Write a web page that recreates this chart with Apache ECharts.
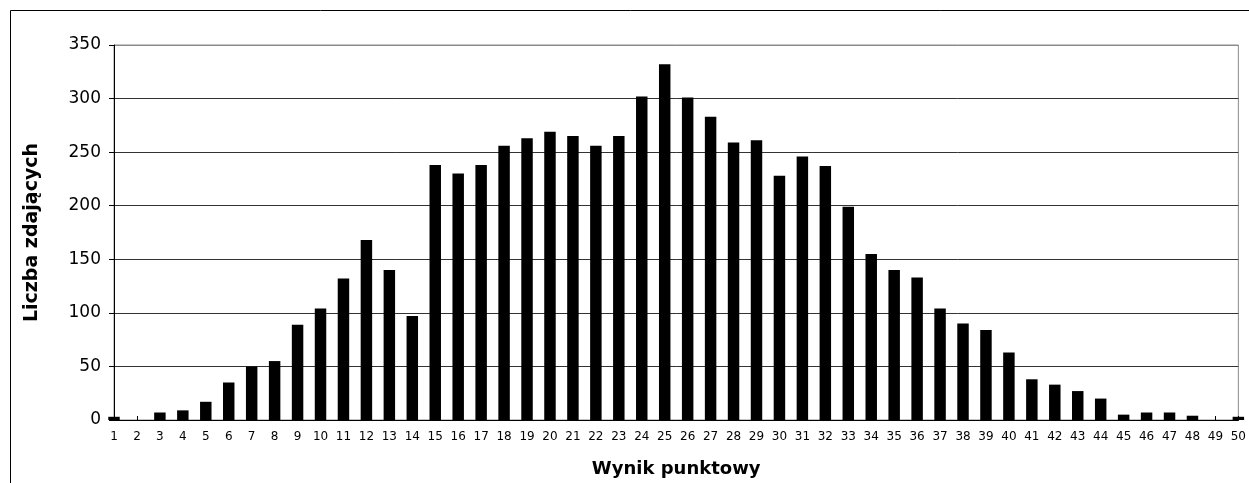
<!DOCTYPE html>
<html>
<head>
<meta charset="utf-8">
<script src="https://cdn.jsdelivr.net/npm/echarts@6/dist/echarts.min.js"></script>
<style>
  html, body { margin: 0; padding: 0; background: #fff; }
  #chart { width: 1249px; height: 483px; }
</style>
</head>
<body>
<div id="chart"></div>
<script>
// wynik punktowy 1..50
const scores = []
for (let i = 1; i <= 50; i++) {
  scores.push(String(i))
}
// liczba zdajacych
const counts = [
  3, 0, 7, 9, 17, 35, 50, 55, 89, 104,
  132, 168, 140, 97, 238, 230, 238, 256, 263, 269,
  265, 256, 265, 302, 332, 301, 283, 259, 261, 228,
  246, 237, 199, 155, 140, 133, 104, 90, 84, 63,
  38, 33, 27, 20, 5, 7, 7, 4, 0, 3
]
const yTicks = [0, 50, 100, 150, 200, 250, 300, 350]

const chart = echarts.init(document.getElementById('chart'))

chart.setOption({
  animation: false,
  backgroundColor: '#fff',
  textStyle: { fontFamily: 'DejaVu Sans' },
  graphic: [
    {
      // ramka wykresu (przycieta z prawej i od dolu)
      type: 'rect',
      shape: { x: 10.5, y: 10.5, width: 1260, height: 500 },
      style: { fill: null, stroke: '#000', lineWidth: 1 },
      silent: true
    }
  ],
  grid: {
    left: 114,
    right: 6,
    top: 45,
    bottom: 63,
    show: true,
    borderColor: '#8a8a8a',
    borderWidth: 1
  },
  xAxis: {
    type: 'category',
    data: scores,
    boundaryGap: false,
    name: 'Wynik punktowy',
    nameLocation: 'middle',
    nameGap: 40,
    nameTextStyle: { fontFamily: 'DejaVu Sans', fontWeight: 'bold', fontSize: 18, color: '#000' },
    axisLine: { lineStyle: { color: '#000', width: 1 } },
    axisTick: { show: true, inside: true, length: 4, interval: 0, lineStyle: { color: '#000' } },
    axisLabel: { interval: 0, margin: 11, fontSize: 12, color: '#000', fontFamily: 'DejaVu Sans' },
    splitLine: { show: false }
  },
  yAxis: {
    type: 'value',
    min: yTicks[0],
    max: yTicks[yTicks.length - 1],
    interval: 50,
    name: 'Liczba zdających',
    nameLocation: 'middle',
    nameGap: 72,
    nameRotate: 90,
    nameTextStyle: { fontFamily: 'DejaVu Sans', fontWeight: 'bold', fontSize: 19, color: '#000' },
    axisLine: { show: true, lineStyle: { color: '#000', width: 1 } },
    axisTick: { show: true, inside: false, length: 5, lineStyle: { color: '#000' } },
    axisLabel: { margin: 13, fontSize: 17, color: '#000', fontFamily: 'DejaVu Sans' },
    splitLine: {
      show: true,
      lineStyle: {
        color: ['#333', '#333', '#333', '#333', '#333', '#333', '#333', '#8a8a8a'],
        width: 1
      }
    }
  },
  series: [
    {
      type: 'bar',
      data: counts,
      barWidth: '50%',
      clip: true,
      itemStyle: { color: '#000' }
    }
  ]
})
</script>
</body>
</html>
